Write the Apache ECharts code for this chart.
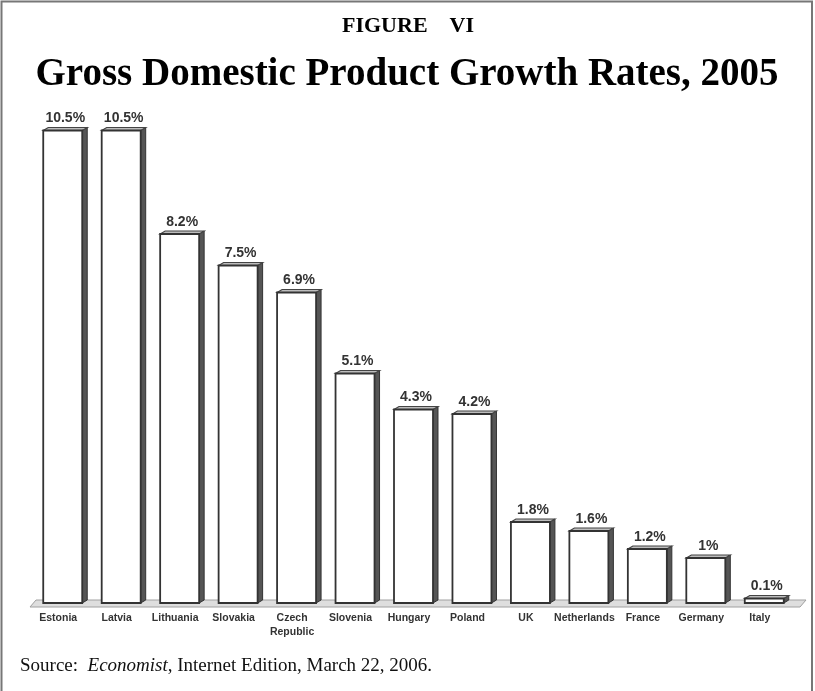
<!DOCTYPE html>
<html>
<head>
<meta charset="utf-8">
<script src="https://cdn.jsdelivr.net/npm/echarts@6/dist/echarts.min.js"></script>
<style>
html,body{margin:0;padding:0;background:#fff;}
#chart{width:815px;height:691px;}
</style>
</head>
<body>
<div id="chart"></div>
<script>
const categories = ['Estonia','Latvia','Lithuania','Slovakia','Czech\nRepublic','Slovenia','Hungary','Poland','UK','Netherlands','France','Germany','Italy'];
const growth = [10.5,10.5,8.2,7.5,6.9,5.1,4.3,4.2,1.8,1.6,1.2,1,0.1];
const valueLabels = ['10.5%','10.5%','8.2%','7.5%','6.9%','5.1%','4.3%','4.2%','1.8%','1.6%','1.2%','1%','0.1%'];

const chart = echarts.init(document.getElementById('chart'), null, {renderer:'canvas'});

const DX = 5, DY = -3;

function renderBar(params, api){
  const i = api.value(0);
  const v = api.value(1);
  const top = api.coord([i, v]);
  const base = api.coord([i, 0]);
  const bandW = api.size([1, 0])[0];
  const fw = bandW * 0.667;
  const x0 = top[0] - (fw + DX) / 2;
  const x1 = x0 + fw;
  const yt = top[1], yb = base[1];
  return {
    type: 'group',
    children: [
      {type:'polygon', shape:{points:[[x1,yt],[x1+DX,yt+DY],[x1+DX,yb+DY],[x1,yb]]},
        style:{fill:'#555555', stroke:'#333', lineWidth:1}},
      {type:'polygon', shape:{points:[[x0,yt],[x0+DX,yt+DY],[x1+DX,yt+DY],[x1,yt]]},
        style:{fill:'#bdbdbd', stroke:'#444', lineWidth:1.2}},
      {type:'rect', shape:{x:x0, y:yt, width:fw, height:yb-yt},
        style:{fill:'#ffffff', stroke:'#333', lineWidth:1.8}},
      {type:'text', style:{text: valueLabels[params.dataIndex], x: x0 + (fw+DX)/2, y: yt + DY - 2,
        textAlign:'center', textVerticalAlign:'bottom',
        font:'bold 14px "Liberation Sans", Arial, sans-serif', fill:'#333'}}
    ]
  };
}

function renderFloor(params, api){
  const cs = params.coordSys;
  const yb = cs.y + cs.height;
  const xl = cs.x - 6, xr = cs.x + cs.width + 4;
  return {
    type:'polygon',
    shape:{points:[[xl, yb+4],[xl+6, yb-3],[xr+6, yb-3],[xr, yb+4]]},
    style:{fill:'#dedede', stroke:'#a0a0a0', lineWidth:1}
  };
}

const option = {
  animation:false,
  backgroundColor:'#ffffff',
  grid:{left:36, right:19, top:108, bottom:88},
  xAxis:{
    type:'category', data:categories,
    axisLine:{show:false}, axisTick:{show:false},
    axisLabel:{interval:0, margin:8, color:'#333', fontWeight:'bold', fontSize:10.5,
      fontFamily:'"Liberation Sans", Arial, sans-serif', lineHeight:14, padding:[0,14,0,0]}
  },
  yAxis:{type:'value', min:0, max:11, show:false, splitLine:{show:false}},
  series:[
    {type:'custom', renderItem:renderFloor, data:[[0,0]], z:1, silent:true},
    {type:'custom', renderItem:renderBar, z:2,
      data: growth.map((v,i)=>[i, v]), encode:{x:0, y:1}}
  ],
  graphic:[
    {type:'polyline', shape:{points:[[1.5,691],[1.5,1.5],[812,1.5],[812,691]]},
      style:{stroke:'#777', lineWidth:2, fill:null}},
    {type:'text', style:{text:'FIGURE    VI', x:408, y:26, textAlign:'center', textVerticalAlign:'middle',
      font:'bold 22px "Liberation Serif", "Times New Roman", serif', fill:'#000'}},
    {type:'text', style:{text:'Gross Domestic Product Growth Rates, 2005', x:407, y:75, textAlign:'center', textVerticalAlign:'middle',
      font:'bold 39px "Liberation Serif", "Times New Roman", serif', fill:'#000'}},
    {type:'text', style:{
      text:'{n|Source:  }{i|Economist}{n|, Internet Edition, March 22, 2006.}',
      x:20, y:666, textAlign:'left', textVerticalAlign:'middle',
      rich:{
        n:{fontFamily:'"Liberation Serif", "Times New Roman", serif', fontSize:19, fill:'#111', color:'#111'},
        i:{fontFamily:'"Liberation Serif", "Times New Roman", serif', fontSize:19, fontStyle:'italic', fill:'#111', color:'#111'}
      }}}
  ]
};
chart.setOption(option);
</script>
</body>
</html>
